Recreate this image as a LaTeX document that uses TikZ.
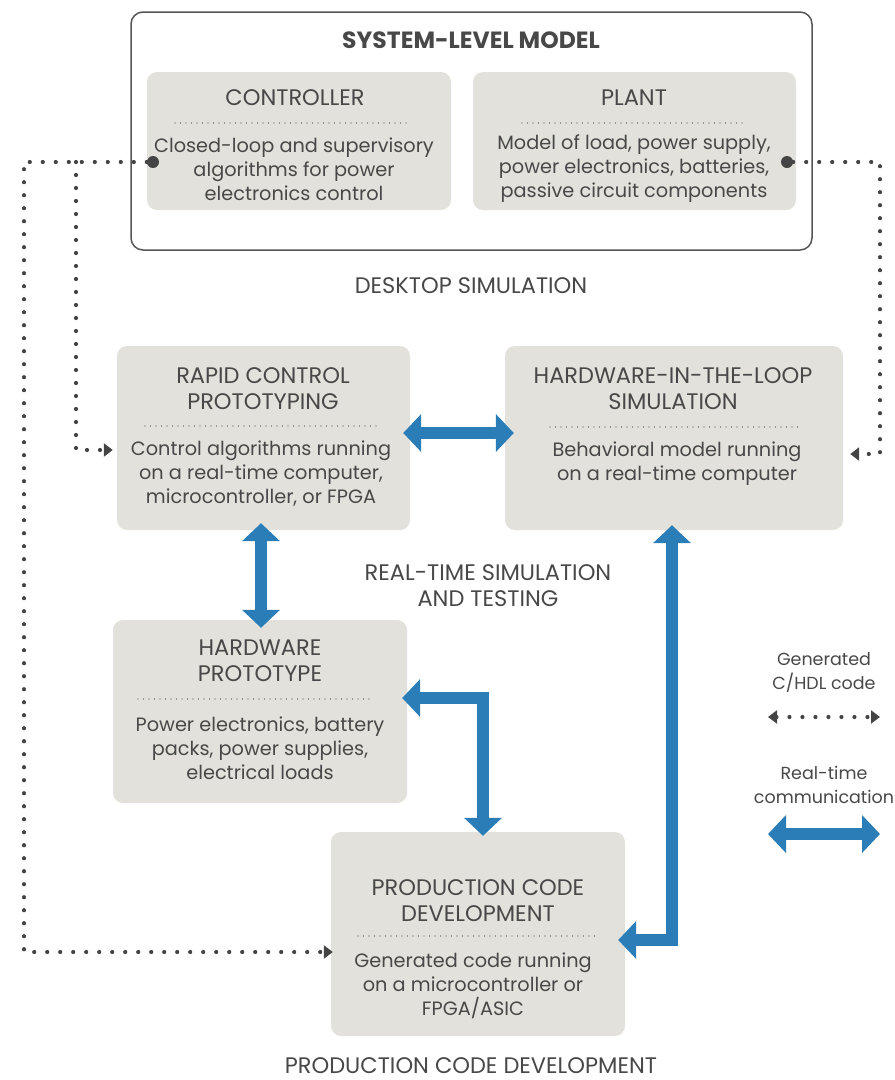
\documentclass[tikz,border=0pt]{standalone}
\usepackage{fontspec}
\setmainfont{Poppins}
\usetikzlibrary{arrows.meta,calc}
\definecolor{boxfill}{RGB}{226,225,220}
\definecolor{txt}{RGB}{72,72,72}
\definecolor{flow}{RGB}{42,125,183}
\definecolor{dotc}{RGB}{68,68,68}
\definecolor{outline}{RGB}{85,85,85}
\begin{document}
\begin{tikzpicture}[x=1pt,y=-1pt,
  box/.style={fill=boxfill, rounded corners=10pt, inner sep=0pt},
  ttl/.style={text=txt, font=\fontsize{22.5}{26}\selectfont, align=center, inner sep=0pt},
  body/.style={text=txt, font=\fontsize{19.3}{24}\selectfont, align=center, inner sep=0pt},
  legend/.style={text=txt, font=\fontsize{17.5}{24}\selectfont, align=center, inner sep=0pt},
  sep/.style={draw=txt, line width=1.4pt, dash pattern=on 0pt off 5.5pt, line cap=round},
  link/.style={draw=dotc, line width=4.2pt, dash pattern=on 0pt off 13pt, line cap=round},
  ltip/.style={-{Triangle[length=9pt,width=13pt]}},
  flowarrow/.style={draw=flow, line width=12pt, line join=miter,
     {Triangle[length=18pt,width=37pt]}-{Triangle[length=18pt,width=37pt]}},
  bigdot/.style={circle, fill=dotc, minimum size=12pt, inner sep=0pt}
]
\useasboundingbox (0,0) rectangle (895,1080);

% system-level model
\node[draw=outline, line width=1.5pt, rounded corners=12pt, minimum width=681pt, minimum height=238pt, inner sep=0pt] (sys) at (471.5,131) {};
\node[ttl, font=\fontsize{23.5}{26}\selectfont\bfseries] (systitle) at (471,40) {SYSTEM-LEVEL MODEL};

\node[box, minimum width=304pt, minimum height=138pt] (ctrl) at (299,141) {};
\node[ttl] (ctrlT) at (295,98) {CONTROLLER};
\draw[sep] (175,123) -- (410,123);
\node[body] (ctrlB) at (294,169) {Closed-loop and supervisory\\algorithms for power\\electronics control};

\node[box, minimum width=323pt, minimum height=138pt] (plant) at (634.5,141) {};
\node[ttl] (plantT) at (634,98) {PLANT};
\draw[sep] (522,123) -- (746,123);
\node[body] (plantB) at (634,169) {Model of load, power supply,\\power electronics, batteries,\\passive circuit components};

\node (desk) [ttl] at (471,286) {DESKTOP SIMULATION};

% rapid control prototyping
\node[box, minimum width=293pt, minimum height=184pt] (rcp) at (263.5,438) {};
\node[ttl] (rcpT) at (263,389) {RAPID CONTROL\\PROTOTYPING};
\draw[sep] (145,426) -- (378,426);
\node[body] (rcpB) at (261,474) {Control algorithms running\\on a real-time computer,\\microcontroller, or FPGA};

% HIL
\node[box, minimum width=338pt, minimum height=184pt] (hil) at (674,438) {};
\node[ttl] (hilT) at (673,389) {HARDWARE-IN-THE-LOOP\\SIMULATION};
\draw[sep] (550,427) -- (800,427);
\node[body] (hilB) at (677,464) {Behavioral model running\\on a real-time computer};

\node[ttl] (rts) at (488,586) {REAL-TIME SIMULATION\\AND TESTING};

% hardware prototype
\node[box, minimum width=294pt, minimum height=183pt] (hw) at (260,711.5) {};
\node[ttl] (hwT) at (260,661) {HARDWARE\\PROTOTYPE};
\draw[sep] (138,699) -- (370,699);
\node[body] (hwB) at (260,748) {Power electronics, battery\\packs, power supplies,\\electrical loads};

% production code development
\node[box, minimum width=294pt, minimum height=204pt] (prod) at (478,934) {};
\node[ttl] (prodT) at (478,901) {PRODUCTION CODE\\DEVELOPMENT};
\draw[sep] (358,936) -- (595,936);
\node[body] (prodB) at (473,986) {Generated code running\\on a microcontroller or\\FPGA/ASIC};

\node[ttl] (pcd) at (471,1066) {PRODUCTION CODE DEVELOPMENT};

% dotted connectors
\node[bigdot] (cdot) at (153,162) {};
\node[bigdot] (pdot) at (787,162) {};
\coordinate (branch) at (76,162);
\draw[link, ltip] (cdot) -- (24,162) -- (24,952) -- ([shift={(2,18)}]prod.west);
\draw[link, ltip] (branch) -- (76,450) -- ([shift={(-4,12)}]rcp.west);
\draw[link, ltip] (pdot) -- (880,162) -- (880,454) -- ([shift={(7,16)}]hil.east);

% blue connectors
\draw[flowarrow] ([shift={(-7,-5)}]rcp.east) -- ([shift={(9,-5)}]hil.west);
\draw[flowarrow] ([shift={(-2.5,-7)}]rcp.south) -- ([shift={(1,8)}]hw.north);
\draw[flowarrow] ([shift={(-5,-13.5)}]hw.east) -| ([shift={(5,4)}]prod.north);
\draw[flowarrow] ([shift={(-7,6)}]prod.east) -| ([shift={(-2,-5)}]hil.south);

% legend
\node[legend] (lg1) at (824,673) {Generated\\C/HDL code};
\coordinate (l1a) at (768,717);
\coordinate (l1b) at (880,717);
\draw[link, {Triangle[length=9pt,width=13pt]}-{Triangle[length=9pt,width=13pt]}] (l1a) -- (l1b);
\node[legend] (lg2) at (824,785) {Real-time\\communication};
\coordinate (l2a) at (768,834);
\coordinate (l2b) at (880,834);
\draw[flowarrow] (l2a) -- (l2b);
\end{tikzpicture}
\end{document}
